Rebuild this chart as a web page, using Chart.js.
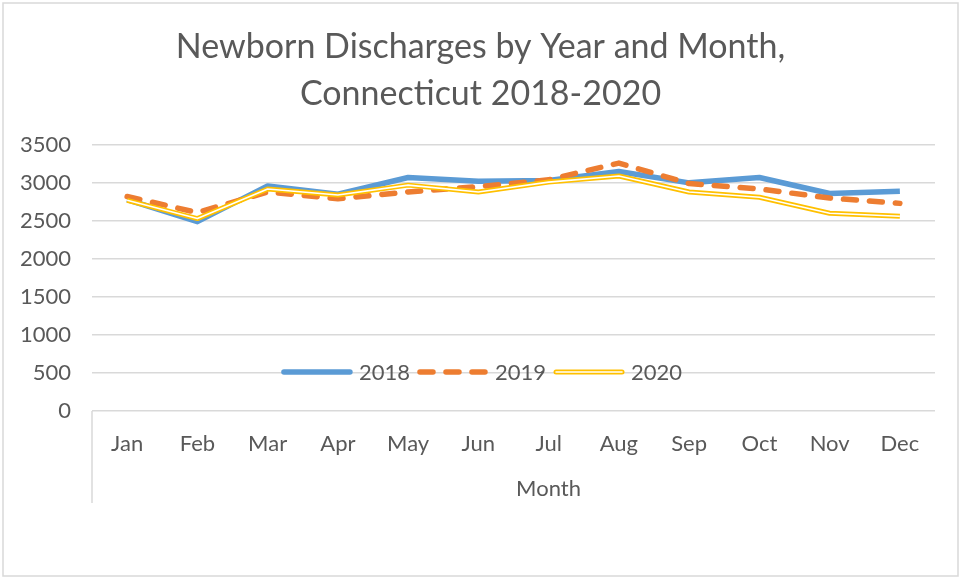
<!DOCTYPE html>
<html>
<head>
<meta charset="utf-8">
<script src="https://cdn.jsdelivr.net/npm/chart.js@4.4.1/dist/chart.umd.min.js"></script>
<style>
  html, body { margin: 0; padding: 0; background: #fff; }
  #wrap { width: 961px; height: 579px; }
</style>
</head>
<body>
<div id="wrap"><canvas id="lineChart" width="961" height="579"></canvas></div>
<script>
const months = ['Jan', 'Feb', 'Mar', 'Apr', 'May', 'Jun', 'Jul', 'Aug', 'Sep', 'Oct', 'Nov', 'Dec'];
const years = ['2018', '2019', '2020'];
const y2018 = [2780, 2490, 2960, 2850, 3070, 3020, 3030, 3150, 3000, 3070, 2860, 2890];
const y2019 = [2820, 2610, 2880, 2790, 2880, 2950, 3040, 3260, 2990, 2920, 2800, 2730];
const y2020 = [2770, 2530, 2920, 2840, 2970, 2880, 3010, 3090, 2880, 2810, 2600, 2560];
const titleLines = ['Newborn Discharges by Year and Month,', 'Connecticut 2018-2020'];
const axisTitle = 'Month';

const FONT = 'Lato';
const GREY = '#595959';

// frame round the whole picture, the small category divider line and the axis title
const framePlugin = {
	id: 'frame',
	beforeDraw(chart) {
		const c = chart.ctx;
		c.save();
		c.fillStyle = '#fff';
		c.fillRect(0, 0, chart.width, chart.height);
		c.strokeStyle = '#d9d9d9';
		c.lineWidth = 1.5;
		c.strokeRect(3, 3, chart.width - 6, chart.height - 6);
		c.restore();
	},
	afterDraw(chart) {
		const c = chart.ctx;
		const x = chart.chartArea.left;
		const xs = chart.scales.x;
		c.save();
		c.strokeStyle = '#d9d9d9';
		c.lineWidth = 1.5;
		c.beginPath();
		c.moveTo(x, chart.chartArea.bottom);
		c.lineTo(x, xs.bottom - 8);
		c.stroke();
		// Month title, a bit right of centre like the original
		c.font = '22px ' + FONT;
		c.fillStyle = GREY;
		c.textAlign = 'center';
		c.textBaseline = 'middle';
		c.fillText(axisTitle, (chart.chartArea.left + chart.chartArea.right) / 2 + 35, xs.bottom - 22);
		c.restore();
	}
};

// legend sits inside the plot, on the 500 gridline
const inLegend = {
	id: 'inLegend',
	afterDatasetsDraw(chart) {
		const c = chart.ctx;
		const y = chart.scales.y.getPixelForValue(500) - 1;
		const sample = 72, gapA = 6, gapB = 7;
		c.save();
		c.font = '22px ' + FONT;
		c.textBaseline = 'middle';
		let total = 0;
		years.forEach((t, i) => {
			total += sample + gapA + c.measureText(t).width + (i < years.length - 1 ? gapB : 0);
		});
		let x = chart.width / 2 - total / 2 + 1;
		years.forEach((t, i) => {
			c.beginPath();
			c.lineCap = 'round';
			if (i == 0) {
				c.strokeStyle = '#5B9BD5'; c.lineWidth = 5.5; c.setLineDash([]);
				c.moveTo(x + 3, y); c.lineTo(x + sample - 3, y); c.stroke();
			} else if (i == 1) {
				c.strokeStyle = '#ED7D31'; c.lineWidth = 5.5; c.setLineDash([13, 13]);
				c.moveTo(x + 3, y); c.lineTo(x + sample - 3, y); c.stroke();
				c.setLineDash([]);
			} else {
				c.strokeStyle = '#FFC000'; c.lineWidth = 5;
				c.moveTo(x + 3, y); c.lineTo(x + sample - 3, y); c.stroke();
				c.beginPath(); c.strokeStyle = '#fff'; c.lineWidth = 1.6;
				c.moveTo(x + 3, y); c.lineTo(x + sample - 3, y); c.stroke();
			}
			x += sample + gapA;
			c.fillStyle = GREY;
			c.fillText(t, x, y + 1);
			x += c.measureText(t).width + gapB;
		});
		c.restore();
	}
};

const ctx = document.getElementById('lineChart').getContext('2d');
new Chart(ctx, {
	type: 'line',
	data: {
		labels: months,
		datasets: [
			{ label: years[0], data: y2018, borderColor: '#5B9BD5', borderWidth: 5.5, order: 4 },
			{ label: years[1], data: y2019, borderColor: '#ED7D31', borderWidth: 5.5, borderDash: [13, 13], borderCapStyle: 'round', order: 3 },
			{ label: years[2], data: y2020, borderColor: '#FFC000', borderWidth: 5, order: 2 },
			{ label: years[2] + ' inner', data: y2020, borderColor: '#ffffff', borderWidth: 1.6, order: 1 }
		]
	},
	options: {
		responsive: false,
		animation: false,
		devicePixelRatio: 1,
		layout: { padding: { top: 0, left: 0, right: 0, bottom: 68 } },
		elements: {
			point: { radius: 0, hoverRadius: 0 },
			line: { tension: 0, borderJoinStyle: 'round', fill: false }
		},
		plugins: {
			legend: { display: false },
			tooltip: { enabled: false },
			title: {
				display: true,
				text: titleLines,
				color: GREY,
				font: { family: FONT, size: 34, weight: 'normal', lineHeight: 1.365 },
				padding: { top: 24, bottom: 28 }
			}
		},
		scales: {
			x: {
				offset: true,
				grid: { display: false, drawTicks: false },
				border: { display: false },
				ticks: { color: GREY, font: { family: FONT, size: 22 }, padding: 20, maxRotation: 0 },
				afterFit(scale) { scale.height = 100; }
			},
			y: {
				min: 0,
				max: 3500,
				ticks: { stepSize: 500, color: GREY, font: { family: FONT, size: 22 }, padding: 21, callback: (v) => String(v) },
				grid: { color: '#d9d9d9', lineWidth: 1.5, drawTicks: false },
				border: { display: false },
				afterFit(scale) { scale.width = 92; }
			},
			// empty right-hand strip so the plot ends where the original does
			yr: {
				position: 'right',
				display: true,
				ticks: { display: false },
				grid: { display: false, drawTicks: false },
				border: { display: false },
				afterFit(scale) { scale.width = 26; }
			}
		}
	},
	plugins: [framePlugin, inLegend]
});
</script>
</body>
</html>
